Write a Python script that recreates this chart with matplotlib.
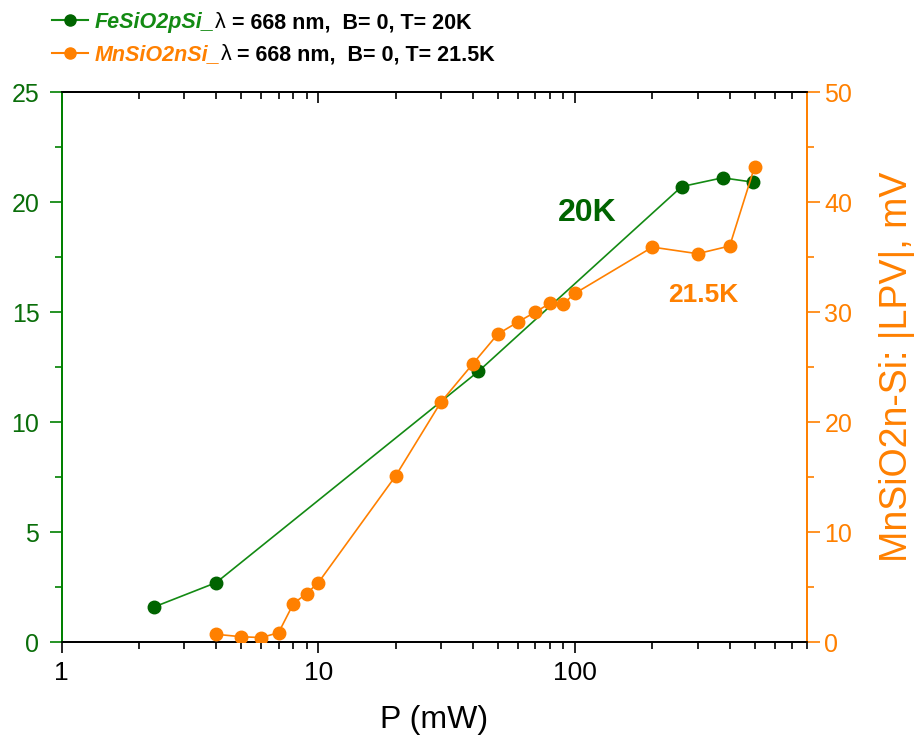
import matplotlib
matplotlib.use("Agg")
import matplotlib.pyplot as plt
from matplotlib.lines import Line2D
from matplotlib.ticker import MultipleLocator, LogLocator, NullFormatter, FixedLocator, FixedFormatter

plt.rcParams['font.family'] = ['Liberation Sans', 'DejaVu Sans']

# ---- data ----
fe_power = [2.3, 4, 42, 260, 375, 495]
fe_lpv = [1.6, 2.7, 12.3, 20.7, 21.1, 20.9]

mn_power = [4, 5, 6, 7, 8, 9, 10, 20, 30, 40, 50, 60, 70, 80, 90, 100, 200, 300, 400, 500]
mn_lpv = [0.7, 0.48, 0.4, 0.85, 3.5, 4.4, 5.4, 15.1, 21.8, 25.3, 28.0, 29.1, 30.0, 30.8,
          30.75, 31.7, 35.9, 35.3, 36.0, 43.2]

x_ticks = [1, 10, 100]
x_tick_labels = ['1', '10', '100']

GREEN_LINE = '#138a13'
GREEN_MK = '#006400'
GREEN_TXT = '#0a6e0a'
ORANGE = '#ff8000'

fig = plt.figure(figsize=(9.2, 7.44), dpi=100)
ax = fig.add_axes([61.6 / 920, 1 - 642 / 744, (807 - 61.6) / 920, (642 - 92) / 744])
ax2 = ax.twinx()

ax.plot(fe_power, fe_lpv, '-o', color=GREEN_LINE, lw=1.2, ms=9,
        markerfacecolor=GREEN_MK, markeredgecolor=GREEN_MK, zorder=3)
ax2.plot(mn_power, mn_lpv, '-o', color=ORANGE, lw=1.2, ms=9,
         markerfacecolor=ORANGE, markeredgecolor=ORANGE, zorder=3)

ax.set_xscale('log')
ax.set_xlim(1, 800)
ax.set_ylim(0, 25)
ax2.set_ylim(0, 50)

ax.xaxis.set_major_locator(FixedLocator(x_ticks))
ax.xaxis.set_major_formatter(FixedFormatter(x_tick_labels))
ax.xaxis.set_minor_locator(LogLocator(base=10, subs=range(2, 10)))
ax.xaxis.set_minor_formatter(NullFormatter())

ax.yaxis.set_major_locator(MultipleLocator(5))
ax.yaxis.set_minor_locator(MultipleLocator(2.5))
ax2.yaxis.set_major_locator(MultipleLocator(10))
ax2.yaxis.set_minor_locator(MultipleLocator(5))

# spines
for a in (ax, ax2):
    a.spines['top'].set_color('black')
    a.spines['bottom'].set_color('black')
    a.spines['left'].set_color('#008000')
    a.spines['right'].set_color(ORANGE)
    for s in a.spines.values():
        s.set_linewidth(1.3)

ax.tick_params(axis='x', which='both', direction='out', colors='black', labelsize=19,
               bottom=True, top=False, width=1.2)
ax.tick_params(axis='x', which='major', length=8, pad=6)
ax.tick_params(axis='x', which='minor', length=5)
ax.tick_params(axis='y', which='both', direction='out', colors='#008000',
               labelcolor=GREEN_TXT, labelsize=18, width=1.2)
ax.tick_params(axis='y', which='major', length=9, pad=7)
ax.tick_params(axis='y', which='minor', length=5)
ax2.tick_params(axis='y', which='both', direction='out', colors=ORANGE,
                labelcolor=ORANGE, labelsize=18, width=1.2)
ax2.tick_params(axis='y', which='major', length=9)
ax2.tick_params(axis='y', which='minor', length=5)

# top ticks pointing in
top = ax.secondary_xaxis('top')
top.set_xscale('log')
top.xaxis.set_major_locator(FixedLocator(x_ticks))
top.xaxis.set_minor_locator(LogLocator(base=10, subs=range(2, 10)))
top.xaxis.set_major_formatter(NullFormatter())
top.xaxis.set_minor_formatter(NullFormatter())
top.tick_params(which='both', direction='in', width=1.2, colors='black')
top.tick_params(which='major', length=8)
top.tick_params(which='minor', length=5)
top.spines['top'].set_linewidth(1.3)

ax.set_xlabel('P (mW)', fontsize=23, labelpad=14)
ax2.set_ylabel('MnSiO2n-Si: |LPV|, mV', fontsize=27, color=ORANGE, labelpad=19)

ax.text(111, 19.5, '20K', color=GREEN_MK, fontsize=23, fontweight='bold',
        ha='center', va='center')
ax2.text(315, 31.5, '21.5K', color=ORANGE, fontsize=19, fontweight='bold',
         ha='center', va='center')

# ---- custom legend ----
def legend_row(y_line, y_base, color, mk, name, rest):
    fig.add_artist(Line2D([52 / 920, 88 / 920], [1 - y_line / 744] * 2,
                          transform=fig.transFigure, color=color, lw=1.5))
    fig.add_artist(Line2D([70 / 920], [1 - y_line / 744], transform=fig.transFigure,
                          color=mk, marker='o', ms=8, lw=0))
    t1 = fig.text(95 / 920, (744 - y_base) / 744, name, color=color, fontsize=15.5,
                  fontweight='bold', fontstyle='italic', va='baseline', ha='left')
    t2 = ax.annotate('λ', xy=(1, 744 - y_base), xycoords=(t1, 'figure pixels'),
                     fontsize=15.5, color='black', va='baseline', ha='left',
                     annotation_clip=False)
    ax.annotate(rest, xy=(1, 744 - y_base), xycoords=(t2, 'figure pixels'),
                fontsize=15.5, color='black', fontweight='bold', va='baseline', ha='left',
                annotation_clip=False)

legend_row(20, 28, GREEN_LINE, GREEN_MK, 'FeSiO2pSi_', ' = 668 nm,  B= 0, T= 20K')
legend_row(53, 60, ORANGE, ORANGE, 'MnSiO2nSi_', ' = 668 nm,  B= 0, T= 21.5K')

fig.savefig('out.png', dpi=100)
